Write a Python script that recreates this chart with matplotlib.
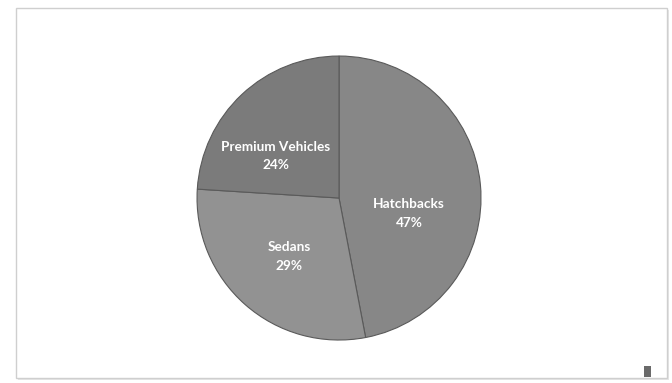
import matplotlib
matplotlib.use('Agg')
import matplotlib.pyplot as plt
from matplotlib.patches import Rectangle

# Vehicle segment share
segments = ['Hatchbacks', 'Sedans', 'Premium Vehicles']
shares = [47, 29, 24]
colors = ['#878787', '#929292', '#7b7b7b']

# label nudges (in pie-radius units) so the text sits like the best-fit placement
label_shift = [(-0.035, -0.16), (0.0, -0.015), (-0.085, -0.09)]

plt.rcParams['font.family'] = ['Lato', 'DejaVu Sans']

fig = plt.figure(figsize=(6.72, 3.83), dpi=100)
fig.patch.set_facecolor('white')

# Chart area frame with a faint shadow
W, H = 672, 383
shadow = Rectangle((18 / W, 1 - 380 / H), 651 / W, 370 / H, transform=fig.transFigure,
                   facecolor='#e6e6e6', edgecolor='none', zorder=0)
frame = Rectangle((16 / W, 1 - 378 / H), 651 / W, 370 / H, transform=fig.transFigure,
                  facecolor='white', edgecolor='#cfcfcf', linewidth=1.0, zorder=1)
fig.patches.extend([shadow, frame])
handle = Rectangle((644 / W, 1 - 377 / H), 7 / W, 11 / H, transform=fig.transFigure,
                   facecolor='#6a6a6a', edgecolor='none', zorder=2)
fig.patches.append(handle)

ax = fig.add_axes([0.2932, 0.1122, 0.4226, 0.7415])
ax.set_zorder(3)
ax.patch.set_visible(False)

wedges, _, autotexts = ax.pie(
    shares, colors=colors, startangle=90, counterclock=False,
    autopct='%1.0f%%', pctdistance=0.53,
    wedgeprops=dict(edgecolor='#5a5a5a', linewidth=0.8),
    textprops=dict(color='white', fontsize=9.8, fontweight='bold'))

for name, t, (dx, dy) in zip(segments, autotexts, label_shift):
    t.set_text(f'{name}\n{t.get_text()}')
    t.set_linespacing(1.65)
    x, y = t.get_position()
    t.set_position((x + dx, y + dy))

ax.set_xlim(-1, 1)
ax.set_ylim(-1, 1)
ax.set_aspect('equal')
ax.axis('off')

fig.savefig('out.png', dpi=100)
